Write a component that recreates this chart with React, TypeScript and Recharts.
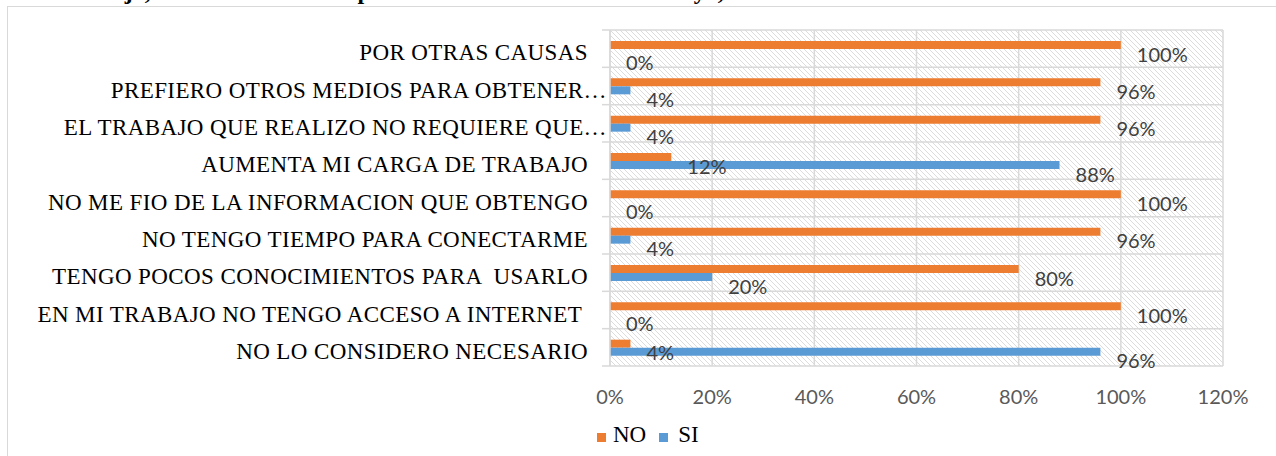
import React from "react";
import {
  BarChart,
  Bar,
  XAxis,
  YAxis,
  CartesianGrid,
  Legend,
  LabelList,
} from "recharts";

const categories = [
  "POR OTRAS CAUSAS",
  "PREFIERO OTROS MEDIOS PARA OBTENER…",
  "EL TRABAJO QUE REALIZO NO REQUIERE QUE…",
  "AUMENTA MI CARGA DE TRABAJO",
  "NO ME FIO DE LA INFORMACION QUE OBTENGO",
  "NO TENGO TIEMPO PARA CONECTARME",
  "TENGO POCOS CONOCIMIENTOS PARA  USARLO",
  "EN MI TRABAJO NO TENGO ACCESO A INTERNET ",
  "NO LO CONSIDERO NECESARIO",
];
const noValues = [100, 96, 96, 12, 100, 96, 80, 100, 4];
const siValues = [0, 4, 4, 88, 0, 4, 20, 0, 96];
const xTicks = [0, 20, 40, 60, 80, 100, 120];
const seriesNames = { no: "NO", si: "SI" };

const data = categories.map((name, i) => ({
  name,
  no: noValues[i],
  si: siValues[i],
}));

const ORANGE = "#ED7D31";
const BLUE = "#5B9BD5";
const GRID = "#d9d9d9";
const SERIF = "'Liberation Serif', 'Times New Roman', serif";
const SANS = "Lato, 'Open Sans', sans-serif";
const TICK_MARGIN = 22;
const LABEL_GAP = 16;
const LABEL_DROP = 8.5;

const YTick = (props: any) => {
  const { x, y, payload, index } = props;
  const half = payload && payload.offset ? payload.offset : 18.67;
  const edge = x + TICK_MARGIN;
  const value: string = payload.value;
  const shift = value.endsWith("…") ? 19 : 0;
  return (
    <g>
      <text
        x={x + shift}
        y={y + 4}
        textAnchor="end"
        dominantBaseline="central"
        fill="#000"
        style={{ fontFamily: SERIF, fontSize: 23, letterSpacing: 0.4, whiteSpace: "pre" }}
      >
        {value}
      </text>
      <line x1={edge - 8} x2={edge} y1={y - half} y2={y - half} stroke={GRID} strokeWidth={1.5} />
      {index === categories.length - 1 && (
        <line x1={edge - 8} x2={edge} y1={y + half} y2={y + half} stroke={GRID} strokeWidth={1.5} />
      )}
    </g>
  );
};

const labelText = (x: number, y: number, value: any, key?: string) => (
  <text
    key={key}
    x={x}
    y={y}
    dominantBaseline="central"
    textAnchor="start"
    fill="#404040"
    style={{ fontFamily: SANS, fontSize: 20 }}
  >
    {value}%
  </text>
);

// Label for the NO bar; also places the SI label when the SI bar has zero length
const NoLabel = (props: any) => {
  const { x, y, width, height, value, index } = props;
  const X = Number(x), Y = Number(y), W = Number(width), H = Number(height);
  const out = [labelText(X + W + LABEL_GAP, Y + H / 2 + LABEL_DROP, value, "no")];
  if (siValues[index] === 0) {
    out.push(labelText(X + LABEL_GAP, Y + H + H / 2 + LABEL_DROP, siValues[index], "si"));
  }
  return <g>{out}</g>;
};

const SiLabel = (props: any) => {
  const { x, y, width, height, value } = props;
  if (!value) return null;
  return labelText(Number(x) + Number(width) + LABEL_GAP, Number(y) + Number(height) / 2 + LABEL_DROP, value);
};

const LegendContent = (props: any) => {
  const { payload } = props;
  return (
    <div style={{ display: "flex", alignItems: "baseline", fontFamily: SERIF, fontSize: 23, color: "#000", lineHeight: "28px" }}>
      {(payload || []).map((entry: any, i: number) => (
        <span key={i} style={{ display: "inline-flex", alignItems: "baseline", marginRight: i === 0 ? 13 : 0 }}>
          <span
            style={{
              display: "inline-block",
              width: 9,
              height: 9,
              background: entry.color,
              marginRight: i === 0 ? 7 : 10,
            }}
          />
          {entry.value}
        </span>
      ))}
    </div>
  );
};

export default function App() {
  return (
    <div
      style={{
        position: "absolute",
        left: 0,
        top: 0,
        width: 1276,
        height: 456,
        overflow: "hidden",
        background: "#fff",
      }}
    >
      <div
        style={{
          position: "absolute",
          left: -32,
          top: -21,
          whiteSpace: "nowrap",
          fontFamily: SERIF,
          fontWeight: "bold",
          fontSize: 24,
          lineHeight: "24px",
          color: "#000",
        }}
      >
        centro de trabajo, en instituciones del primer nivel de atención - Chiclayo, 2016
      </div>
      <div
        style={{
          position: "absolute",
          left: 7,
          top: 6,
          width: 1300,
          height: 500,
          border: `1.5px solid ${GRID}`,
        }}
      />
      <div style={{ position: "absolute", left: 0, top: 0 }}>
        <BarChart
          width={1276}
          height={456}
          layout="vertical"
          data={data}
          margin={{ top: 30, right: 53, left: 0, bottom: 8 }}
          barGap={0}
        >
          <defs>
            <pattern id="hatch" patternUnits="userSpaceOnUse" width="5" height="5">
              <rect width="5" height="5" fill="#ffffff" />
              <path d="M-1,-1 L6,6 M-3.5,1.5 L1.5,6.5 M1.5,-3.5 L6.5,1.5" stroke="#dcdcdc" strokeWidth="1" />
            </pattern>
          </defs>
          <CartesianGrid
            fill="url(#hatch)"
            stroke={GRID}
            strokeWidth={1.5}
            horizontalCoordinatesGenerator={(p: any) => {
              const off = p.offset;
              return Array.from({ length: categories.length + 1 }, (_, i) => off.top + (i * off.height) / categories.length);
            }}
          />
          <XAxis
            type="number"
            domain={[0, 120]}
            ticks={xTicks}
            tickFormatter={(v: number) => `${v}%`}
            axisLine={false}
            tickLine={false}
            tickSize={0}
            tickMargin={24}
            height={52}
            tick={{ fontFamily: SANS, fontSize: 20, fill: "#595959" }}
          />
          <YAxis
            type="category"
            dataKey="name"
            width={610}
            interval={0}
            tickLine={false}
            tickSize={0}
            tickMargin={TICK_MARGIN}
            axisLine={{ stroke: GRID, strokeWidth: 1.5 }}
            tick={<YTick />}
          />
          <Legend
            height={30}
            content={<LegendContent />}
            wrapperStyle={{ left: 597, top: 421, width: 200 }}
          />
          <Bar dataKey="no" name={seriesNames.no} fill={ORANGE} barSize={8} isAnimationActive={false}>
            <LabelList dataKey="no" content={<NoLabel />} />
          </Bar>
          <Bar dataKey="si" name={seriesNames.si} fill={BLUE} barSize={8} isAnimationActive={false}>
            <LabelList dataKey="si" content={<SiLabel />} />
          </Bar>
        </BarChart>
      </div>
    </div>
  );
}
